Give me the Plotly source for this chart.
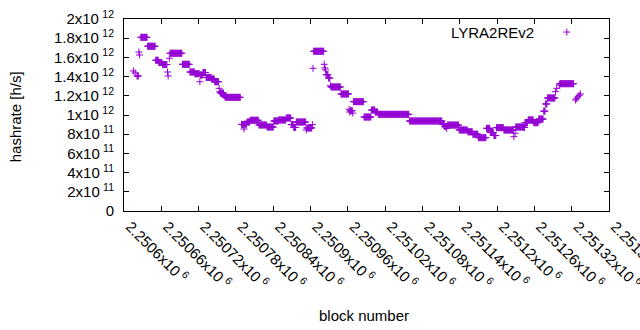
import plotly.graph_objects as go

# ---- data: runs of consecutive blocks with constant estimated hashrate ----
run_first_block = [
    2250615, 2250618, 2250621, 2250624, 2250625, 2250627, 2250638, 2250651, 2250656, 2250662,
    2250670, 2250671, 2250673, 2250674, 2250694, 2250706, 2250714, 2250722, 2250723, 2250727,
    2250732, 2250741, 2250746, 2250753, 2250754, 2250755, 2250761, 2250763, 2250789, 2250790,
    2250793, 2250794, 2250798, 2250803, 2250817, 2250830, 2250841, 2250849, 2250861, 2250869,
    2250873, 2250877, 2250893, 2250894, 2250903, 2250904, 2250905, 2250922, 2250923, 2250924,
    2250925, 2250929, 2250932, 2250933, 2250949, 2250962, 2250963, 2250964, 2250968, 2250969,
    2250986, 2250998, 2251004, 2251009, 2251059, 2251112, 2251116, 2251119, 2251120, 2251139,
    2251153, 2251161, 2251170, 2251183, 2251189, 2251195, 2251199, 2251211, 2251227, 2251229,
    2251230, 2251243, 2251245, 2251250, 2251259, 2251267, 2251275, 2251278, 2251281, 2251294,
    2251296, 2251300, 2251301, 2251326, 2251328, 2251330, 2251332, 2251334,
]
run_last_block = [
    2250615, 2250618, 2250623, 2250624, 2250625, 2250637, 2250650, 2250655, 2250661, 2250669,
    2250670, 2250671, 2250673, 2250693, 2250705, 2250713, 2250721, 2250722, 2250726, 2250731,
    2250740, 2250745, 2250752, 2250753, 2250754, 2250760, 2250762, 2250787, 2250789, 2250792,
    2250793, 2250797, 2250802, 2250816, 2250829, 2250840, 2250848, 2250860, 2250868, 2250872,
    2250876, 2250892, 2250893, 2250902, 2250903, 2250904, 2250921, 2250922, 2250923, 2250924,
    2250928, 2250931, 2250932, 2250948, 2250961, 2250962, 2250963, 2250967, 2250968, 2250985,
    2250997, 2251003, 2251008, 2251058, 2251111, 2251115, 2251118, 2251119, 2251138, 2251152,
    2251160, 2251169, 2251182, 2251188, 2251194, 2251198, 2251210, 2251226, 2251227, 2251229,
    2251242, 2251244, 2251249, 2251258, 2251266, 2251274, 2251277, 2251280, 2251293, 2251294,
    2251296, 2251300, 2251323, 2251326, 2251328, 2251330, 2251332, 2251334,
]
run_hashrate = [
    1.458e12, 1.438e12, 1.406e12, 1.656e12, 1.625e12, 1.809e12, 1.716e12, 1.570e12, 1.547e12, 1.526e12,
    1.448e12, 1.406e12, 1.591e12, 1.643e12, 1.528e12, 1.448e12, 1.430e12, 1.347e12, 1.417e12, 1.443e12,
    1.391e12, 1.375e12, 1.347e12, 1.278e12, 1.243e12, 1.229e12, 1.198e12, 1.184e12, 0.903e12, 0.900e12,
    0.854e12, 0.905e12, 0.927e12, 0.945e12, 0.896e12, 0.875e12, 0.9375e12, 0.948e12, 0.969e12, 0.900e12,
    0.870e12, 0.927e12, 0.844e12, 0.865e12, 0.900e12, 1.486e12, 1.664e12, 1.528e12, 1.490e12, 1.470e12,
    1.420e12, 1.385e12, 1.305e12, 1.292e12, 1.219e12, 1.060e12, 1.031e12, 1.045e12, 1.020e12, 1.139e12,
    0.979e12, 1.052e12, 1.031e12, 1.007e12, 0.9375e12, 0.905e12, 0.880e12, 0.860e12, 0.895e12, 0.844e12,
    0.825e12, 0.800e12, 0.764e12, 0.861e12, 0.818e12, 0.786e12, 0.868e12, 0.844e12, 0.774e12, 0.810e12,
    0.875e12, 0.870e12, 0.920e12, 0.948e12, 0.920e12, 0.958e12, 1.040e12, 1.115e12, 1.177e12, 1.243e12,
    1.278e12, 1.3125e12, 1.326e12, 1.156e12, 1.170e12, 1.190e12, 1.205e12, 1.219e12,
]

x_tick_values = [2250600, 2250660, 2250720, 2250780, 2250840, 2250900, 2250960,
                 2251020, 2251080, 2251140, 2251200, 2251260, 2251320, 2251380]
x_tick_labels = ["2.2506", "2.25066", "2.25072", "2.25078", "2.25084", "2.2509", "2.25096",
                 "2.25102", "2.25108", "2.25114", "2.2512", "2.25126", "2.25132", "2.25138"]
y_tick_values = [0, 2e11, 4e11, 6e11, 8e11, 1e12, 1.2e12, 1.4e12, 1.6e12, 1.8e12, 2e12]
y_tick_mantissa = ["0", "2", "4", "6", "8", "1", "1.2", "1.4", "1.6", "1.8", "2"]
y_tick_exponent = ["", "11", "11", "11", "11", "12", "12", "12", "12", "12", "12"]
series_name = "LYRA2REv2"

# expand runs to individual blocks
blocks, rates = [], []
for first, last, rate in zip(run_first_block, run_last_block, run_hashrate):
    for b in range(first, last + 1):
        blocks.append(b)
        rates.append(rate)

COLOR = "#9400D3"
FONT = "Liberation Sans"

fig = go.Figure()
fig.add_trace(go.Scatter(
    x=blocks, y=rates, mode="markers", name=series_name, showlegend=False,
    marker=dict(symbol="cross-thin", size=5, color=COLOR, line=dict(width=1, color=COLOR)),
))

SUP = '<span style="font-size:12px"> </span>'
xt = [f"{m}x10{SUP}<sup>6</sup>" for m in x_tick_labels]
yt = [m if e == "" else f"{m}x10{SUP}<sup>{e}</sup>" for m, e in zip(y_tick_mantissa, y_tick_exponent)]

axis_common = dict(showline=True, linecolor="black", linewidth=1, mirror="ticks",
                   ticks="inside", ticklen=5, tickcolor="black", tickwidth=1,
                   showgrid=False, zeroline=False, automargin=False,
                   ticklabeloverflow="allow")

fig.update_layout(
    width=640, height=330,
    margin=dict(l=124, r=31, t=19, b=119, pad=0),
    paper_bgcolor="white", plot_bgcolor="white",
    font=dict(family=FONT, size=15, color="black"),
    xaxis=dict(range=[2250600, 2251380], tickmode="array", tickvals=x_tick_values,
               ticktext=xt, tickangle=45, ticklabelstandoff=0, ticklabelshift=6, **axis_common),
    yaxis=dict(range=[0, 2e12], tickmode="array", tickvals=y_tick_values,
               ticktext=yt, ticklabelstandoff=6, **axis_common),
    annotations=[
        dict(text="hashrate [h/s]", xref="paper", yref="paper", x=-0.222, y=0.49,
             textangle=-90, showarrow=False, xanchor="center", yanchor="middle",
             font=dict(family=FONT, size=15)),
        dict(text="block number", xref="paper", yref="paper", x=0.495, y=-0.545,
             showarrow=False, xanchor="center", yanchor="middle",
             font=dict(family=FONT, size=15)),
        dict(text=series_name, xref="paper", yref="paper", x=0.849, y=0.932,
             showarrow=False, xanchor="right", yanchor="middle",
             font=dict(family=FONT, size=15)),
    ],
    shapes=[
        dict(type="line", xref="paper", yref="paper", x0=0.906, x1=0.920, y0=0.932, y1=0.932,
             line=dict(color=COLOR, width=1)),
        dict(type="line", xref="paper", yref="paper", x0=0.913, x1=0.913, y0=0.914, y1=0.950,
             line=dict(color=COLOR, width=1)),
    ],
)

fig.write_html("out.html")
